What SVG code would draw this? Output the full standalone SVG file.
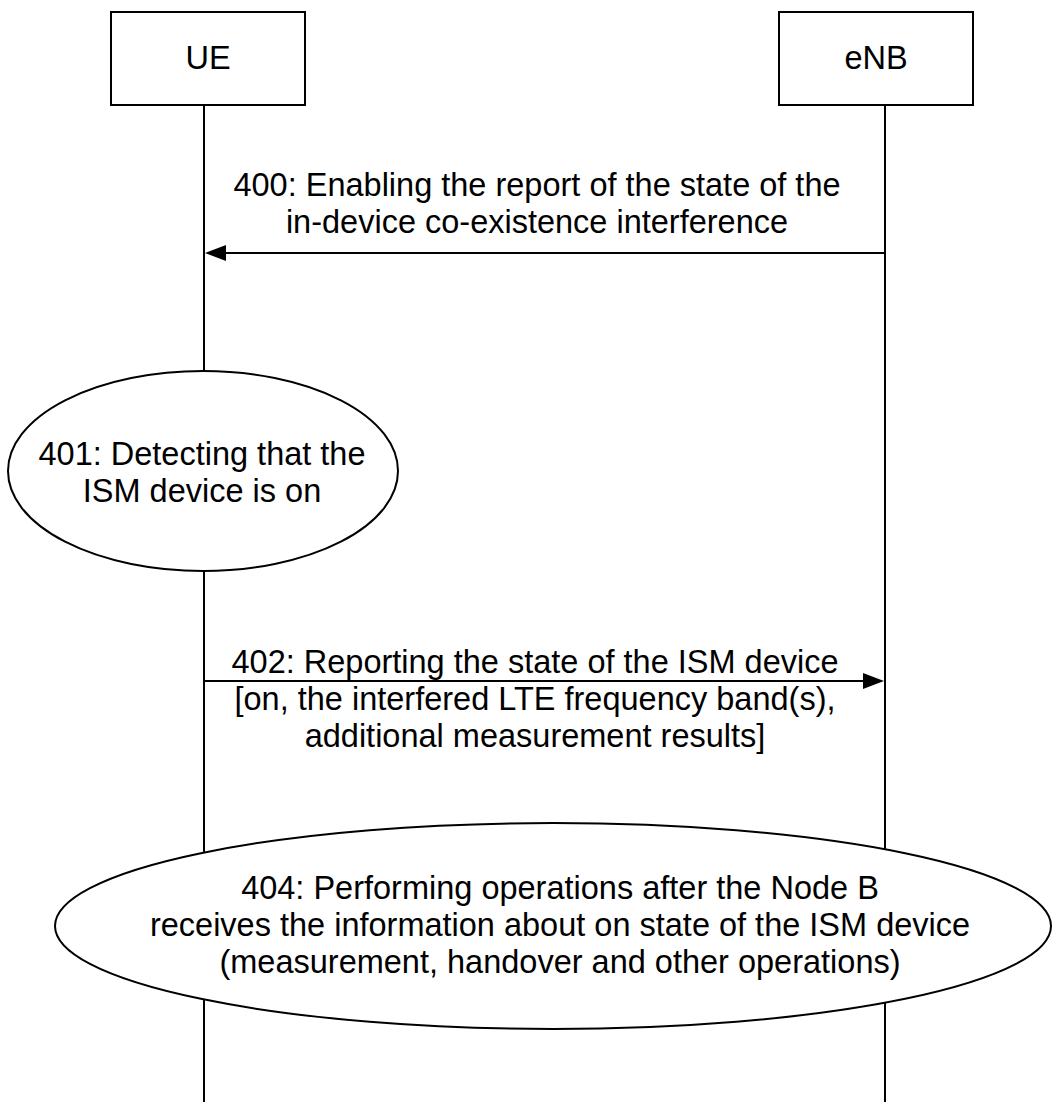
<svg xmlns="http://www.w3.org/2000/svg" width="1053" height="1102" viewBox="0 0 1053 1102">
<style>
.box{fill:#fff;stroke:#000;stroke-width:2}
.life{stroke:#000;stroke-width:2;fill:none}
.msg{stroke:#000;stroke-width:2;fill:none}
.head{fill:#000;stroke:none}
.ell{fill:#fff;stroke:#000;stroke-width:2}
text{font-family:"Liberation Sans",Arial,sans-serif;font-size:32.5px;fill:#000;text-anchor:middle}
</style>
<rect width="1053" height="1102" fill="#fff"/>
<g id="connectors">
<line class="life" x1="204" y1="105" x2="204" y2="1102"/>
<line class="life" x1="885" y1="105" x2="885" y2="1102"/>
<g id="msg400">
<line class="msg" x1="885" y1="253" x2="224" y2="253"/>
<polygon class="head" points="205,253 226,245 226,261"/>
<text x="537" y="196">400: Enabling the report of the state of the</text>
<text x="537" y="233">in-device co-existence interference</text>
</g>
<g id="msg402">
<line class="msg" x1="204" y1="681" x2="865" y2="681"/>
<polygon class="head" points="884,681 863,673 863,689"/>
<text x="535" y="673">402: Reporting the state of the ISM device</text>
<text x="535" y="710">[on, the interfered LTE frequency band(s),</text>
<text x="535" y="747">additional measurement results]</text>
</g>
</g>
<g id="UE">
<rect class="box" x="111" y="12" width="194" height="93"/>
<text x="208" y="69">UE</text>
</g>
<g id="eNB">
<rect class="box" x="779" y="12" width="194" height="93"/>
<text x="876" y="69">eNB</text>
</g>
<g id="step401">
<ellipse class="ell" cx="203" cy="471" rx="195" ry="100"/>
<text x="202" y="465">401: Detecting that the</text>
<text x="202" y="502">ISM device is on</text>
</g>
<g id="step404">
<ellipse class="ell" cx="553" cy="926" rx="498" ry="103"/>
<text x="560" y="899">404: Performing operations after the Node B</text>
<text x="560" y="936">receives the information about on state of the ISM device</text>
<text x="560" y="973">(measurement, handover and other operations)</text>
</g>
</svg>
